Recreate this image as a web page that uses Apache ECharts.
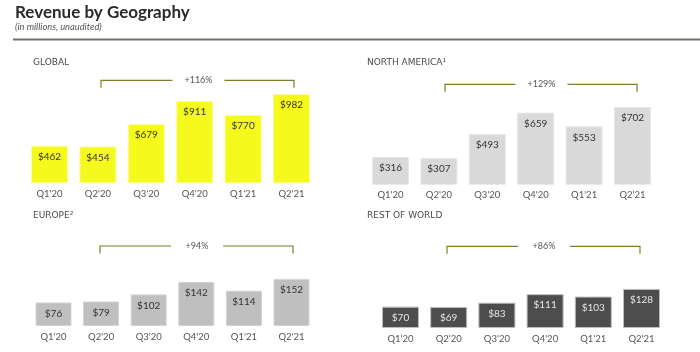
<!DOCTYPE html>
<html>
<head>
<meta charset="utf-8">
<script src="https://cdn.jsdelivr.net/npm/echarts@6/dist/echarts.min.js"></script>
<style>
html,body{margin:0;padding:0;background:#fff;}
#c{width:700px;height:352px;}
</style>
</head>
<body>
<div id="c"></div>
<script>
const categories = ["Q1'20", "Q2'20", "Q3'20", "Q4'20", "Q1'21", "Q2'21"];
const globalRevenue = [462, 454, 679, 911, 770, 982];
const northAmericaRevenue = [316, 307, 493, 659, 553, 702];
const europeRevenue = [76, 79, 102, 142, 114, 152];
const restOfWorldRevenue = [70, 69, 83, 111, 103, 128];
const panelTitles = ["GLOBAL", "NORTH AMERICA¹", "EUROPE²", "REST OF WORLD"];
const growthLabels = ["+116%", "+129%", "+94%", "+86%"];

const FONT = 'Lato, "Noto Sans", sans-serif';
const chart = echarts.init(document.getElementById('c'), null, {renderer: 'canvas'});

const panels = [
  {data: globalRevenue, grid: {left: 25.3, width: 290.4, top: 92.2, height: 90.5}, min: 90, max: 1000,
   color: '#f6fa1c', border: '#fbfd9a', label: '#333', barWidth: 37,
   title: [33, 58], bracket: {x1: 101, x2: 294, y: 80.3, tx: 198.5}},
  {data: northAmericaRevenue, grid: {left: 366.3, width: 290.4, top: 104.7, height: 79.6}, min: 105, max: 720,
   color: '#d9d9d9', border: '#e8e8e8', label: '#333', barWidth: 37,
   title: [367, 58], bracket: {x1: 445, x2: 637, y: 84.3, tx: 541.5}},
  {data: europeRevenue, grid: {left: 29.7, width: 285.6, top: 276.4, height: 49.6}, min: 0, max: 160,
   color: '#bfbfbf', border: '#d4d4d4', label: '#333', barWidth: 36,
   title: [33, 211], bracket: {x1: 100, x2: 293, y: 246, tx: 197}},
  {data: restOfWorldRevenue, grid: {left: 376.4, width: 289.2, top: 285.3, height: 42.7}, min: 0, max: 140,
   color: '#4d4d4d', border: '#bdbdbd', label: '#e6e6e6', barWidth: 37,
   title: [367, 211], bracket: {x1: 447, x2: 640, y: 246.3, tx: 544}}
];

const grids = [], xAxes = [], yAxes = [], series = [];
const graphics = [
  {type: 'text', left: 15, top: 4, style: {text: 'Revenue by Geography', font: 'bold 17px ' + FONT, fill: '#2a2a2a'}},
  {type: 'text', left: 15, top: 22.5, style: {text: '(in millions, unaudited)', font: 'italic 9.3px ' + FONT, fill: '#555'}},
  {type: 'line', shape: {x1: 13, y1: 39.5, x2: 700, y2: 39.5}, style: {stroke: '#737360', lineWidth: 2}}
];

panels.forEach((p, i) => {
  grids.push(Object.assign({containLabel: false}, p.grid));
  xAxes.push({
    type: 'category', gridIndex: i, data: categories,
    axisLine: {show: false}, axisTick: {show: false},
    axisLabel: {color: '#555', fontSize: 9.5, fontFamily: FONT, margin: 6}
  });
  yAxes.push({type: 'value', gridIndex: i, min: p.min, max: p.max, show: false, splitLine: {show: false}});
  series.push({
    type: 'bar', xAxisIndex: i, yAxisIndex: i, data: p.data, barWidth: p.barWidth,
    itemStyle: {color: p.color, borderColor: p.border, borderWidth: 1},
    label: {show: true, position: 'insideTop', distance: 6, formatter: v => '$' + v.value,
            color: p.label, fontSize: 10, fontFamily: FONT},
    silent: true
  });
  graphics.push({type: 'text', left: p.title[0], top: p.title[1],
    style: {text: panelTitles[i], font: '9px "DejaVu Sans", sans-serif', fill: '#4a4a4a'}});
  const b = p.bracket;
  graphics.push({type: 'polyline', shape: {points: [[b.x1, b.y + 7.5], [b.x1, b.y], [b.tx - 26, b.y]]},
    style: {stroke: '#7d7d2a', lineWidth: 1.2, fill: null}});
  graphics.push({type: 'polyline', shape: {points: [[b.tx + 26, b.y], [b.x2, b.y], [b.x2, b.y + 7.5]]},
    style: {stroke: '#7d7d2a', lineWidth: 1.2, fill: null}});
  graphics.push({type: 'text', x: b.tx, y: b.y,
    style: {text: growthLabels[i], font: '9px ' + FONT, fill: '#555', align: 'center', verticalAlign: 'middle'}});
});

chart.setOption({
  animation: false,
  grid: grids, xAxis: xAxes, yAxis: yAxes, series: series,
  graphic: graphics
});
</script>
</body>
</html>
